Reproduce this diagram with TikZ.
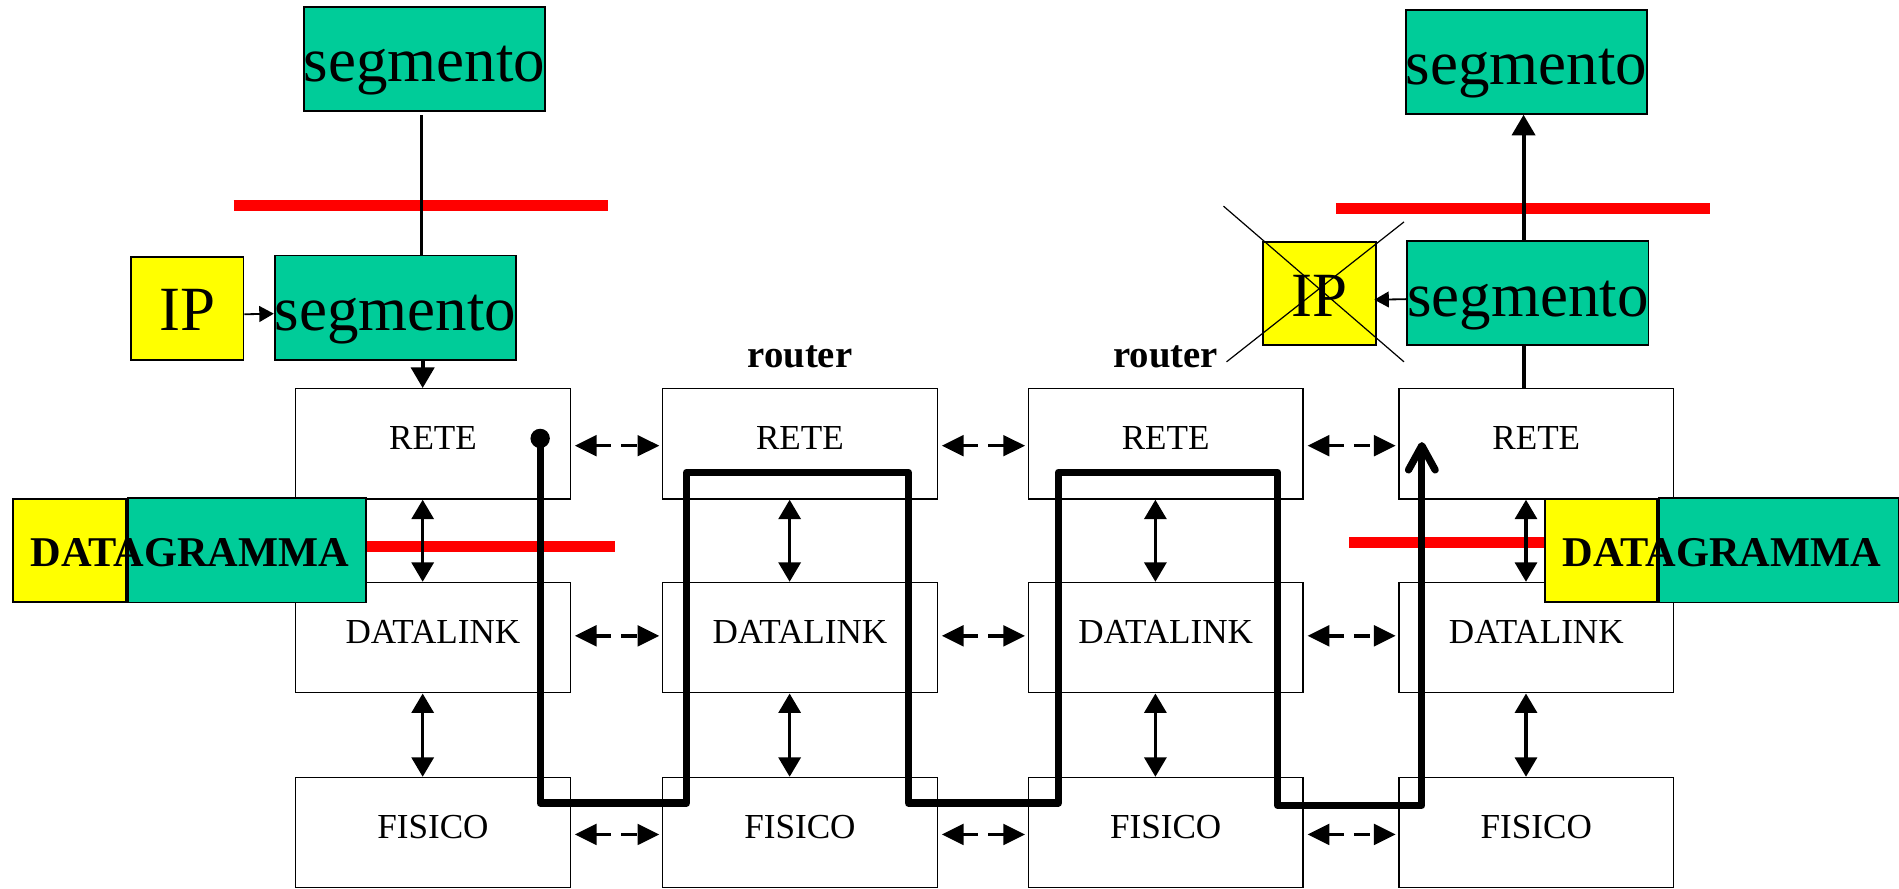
\documentclass[tikz,border=0pt]{standalone}
\usepackage{fontspec}
\setmainfont{Liberation Serif}
\usetikzlibrary{arrows.meta,positioning,calc}
\definecolor{pktgreen}{HTML}{00CC99}
\definecolor{hdryellow}{HTML}{FFFF00}
\definecolor{cutred}{HTML}{FF0000}
\tikzset{
  layer/.style={draw, line width=1.2pt, fill=white, minimum width=227pt, minimum height=91pt,
    inner sep=0pt, text height=50pt, text depth=41pt, font=\fontsize{29}{29}\selectfont},
  segbox/.style={draw, line width=1.5pt, fill=pktgreen, minimum width=199pt, minimum height=86pt,
    inner sep=0pt, text height=62pt, text depth=24pt, font=\fontsize{52}{52}\selectfont},
  hdrbox/.style={draw, line width=1.5pt, fill=hdryellow, minimum width=93pt, minimum height=85pt,
    inner sep=0pt, text height=61pt, text depth=24pt, font=\fontsize{52}{52}\selectfont},
  dgtext/.style={inner sep=0pt, text height=56pt, text depth=29pt, font=\fontsize{35}{35}\selectfont\bfseries},
  routerlbl/.style={inner sep=0pt, anchor=base, font=\fontsize{32}{32}\selectfont\bfseries},
  redbar/.style={cutred, line width=9pt},
  updown/.style={line width=3pt, {Triangle[length=16pt,width=18pt]}-{Triangle[length=16pt,width=18pt]}},
  peer/.style={line width=2.8pt, dash pattern=on 13pt off 8pt,
    {Triangle[length=18pt,width=17pt]}-{Triangle[length=18pt,width=17pt]}},
  pass/.style={line width=3.2pt},
  passarrow/.style={line width=3.2pt, -{Triangle[length=17pt,width=19pt]}},
  hdrarrow/.style={line width=1.5pt, -{Triangle[length=12pt,width=13pt]}},
  datapath/.style={line width=6pt, line cap=round, line join=round,
    -{Straight Barb[round,length=20pt,width=22pt]}},
}
\begin{document}
\begin{tikzpicture}[x=1pt, y=-1pt]
  \clip (0,0) rectangle (1568,734);
  % protocol stacks: host, router, router, host
  \foreach \c/\x in {1/357.5, 2/660.5, 3/962.5, 4/1268.5} {
    \node[layer] (r\c) at (\x,366.5) {RETE};
    \node[layer] (d\c) at (\x,526.5) {DATALINK};
    \node[layer] (f\c) at (\x,687.5) {FISICO};
  }
  \node[routerlbl] (rt2) at ([yshift=17pt]r2.north) {router};
  \node[routerlbl] (rt3) at ([yshift=17pt]r3.north) {router};

  % segments and headers
  \node[segbox] (segTL) at (350.5,48.5) {segmento};
  \node[segbox] (segL) at (326.5,254) {segmento};
  \node[hdrbox] (ipL) at (154.5,254.5) {IP};
  \node[segbox] (segTR) at (1260.5,51) {segmento};
  \node[segbox] (segR) at (1261.5,242) {segmento};
  \node[hdrbox] (ipR) at (1089.5,242.5) {IP};

  % red cuts
  \draw[redbar] (193,170) -- (502,170);
  \draw[redbar] (1103,172) -- (1412,172);
  \draw[redbar] (300,451) -- (508,451);
  \draw[redbar] (1114,448) -- (1276,448);

  % datagrams
  \node[hdrbox, minimum width=93pt] (dgL1) at (57.5,454.5) {};
  \node[segbox, minimum width=197pt, minimum height=85pt, right=0pt of dgL1] (dgL2) {};
  \node[dgtext] (dgLt) at ($(dgL1.west)!0.5!(dgL2.east)$) {DATAGRAMMA};
  \node[hdrbox, minimum width=92pt] (dgR1) at (1322,454.5) {};
  \node[segbox, minimum width=198pt, minimum height=85pt, right=0pt of dgR1] (dgR2) {};
  \node[dgtext] (dgRt) at ($(dgR1.west)!0.5!(dgR2.east)$) {DATAGRAMMA};

  % encapsulation at the sender
  \draw[pass] ([xshift=-2.5pt,yshift=-3pt]segTL.south) -- ([xshift=-2.5pt]segTL.south |- segL.north);
  \draw[passarrow] ([xshift=-8.5pt]r1.north |- segL.south) -- ([xshift=-8.5pt]r1.north);
  \draw[hdrarrow] ([yshift=-5pt]ipL.east) -- ([yshift=-5pt]segL.west);

  % decapsulation at the receiver
  \draw[pass] ([xshift=-10.5pt]r4.north) -- ([xshift=-10.5pt]r4.north |- segR.south);
  \draw[passarrow] ([xshift=-3.5pt]segR.north) -- ([xshift=-3.5pt]segR.north |- segTR.south);
  \draw[hdrarrow] ([yshift=-5pt]segR.west) -- ([yshift=-5pt,xshift=-2pt]ipR.east);
  \draw[line width=1pt] ($(ipR.north west)+(-32,-29)$) -- ($(ipR.south east)+(22.5,13)$);
  \draw[line width=1pt] ($(ipR.south west)+(-29.5,13)$) -- ($(ipR.north east)+(22.5,-16)$);

  % vertical and peer arrows
  \foreach \c in {1,2,3,4} {
    \draw[updown] ([xshift=-8.5pt]r\c.south) -- ([xshift=-8.5pt]d\c.north);
    \draw[updown] ([xshift=-8.5pt]d\c.south) -- ([xshift=-8.5pt]f\c.north);
  }
  \foreach \a/\b in {1/2, 2/3, 3/4} {
    \draw[peer] ([xshift=3pt,yshift=-1.5pt]r\a.east) -- ([xshift=-2pt,yshift=-1.5pt]r\b.west);
    \draw[peer] ([xshift=3pt,yshift=1.5pt]d\a.east) -- ([xshift=-2pt,yshift=1.5pt]d\b.west);
    \draw[peer] ([xshift=3pt,yshift=-1.5pt]f\a.east) -- ([xshift=-2pt,yshift=-1.5pt]f\b.west);
  }

  % path of the datagram
  \fill (446,362) circle (8);
  \draw[datapath] (446,362) -- (446,663) -- (567,663) -- (567,390) -- (750,390) -- (750,663)
    -- (874,663) -- (874,390) -- (1055,390) -- (1055,665) -- (1174,665) -- (1174,365);
\end{tikzpicture}
\end{document}
